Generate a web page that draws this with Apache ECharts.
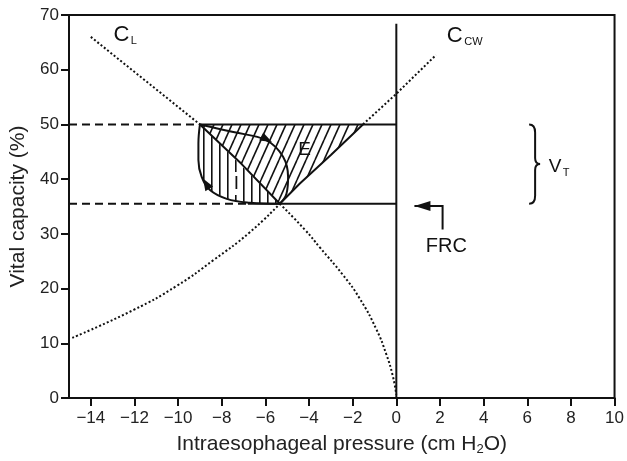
<!DOCTYPE html>
<html>
<head>
<meta charset="utf-8">
<script src="https://cdn.jsdelivr.net/npm/echarts@6/dist/echarts.min.js"></script>
<style>
  html, body { margin: 0; padding: 0; background: #fff; }
  #main { width: 627px; height: 461px; }
</style>
</head>
<body>
<div id="main"></div>
<script>
// tick labels
var xTicks = [-14, -12, -10, -8, -6, -4, -2, 0, 2, 4, 6, 8, 10];

// lung compliance curve (C_L)
var clUpper = [[-14, 66], [-11.5, 58], [-9, 50]];
var clMid = [[-9, 50], [-7.1, 42.8], [-5.34, 35.5]];
var clLower = [[-5.34, 35.5], [-4.2, 30.8], [-3.5, 27.5], [-2.45, 22.5], [-1.68, 18.2], [-0.92, 12.6], [-0.46, 8.0], [-0.16, 4.0], [0, 0.6]];

// chest wall curve (C_CW)
var ccwLower = [[-14.85, 11], [-12.04, 16.1], [-10.06, 20.5], [-8.38, 25.2], [-6.71, 30.3], [-5.34, 35.5]];
var ccwMid = [[-5.34, 35.5], [-4.42, 39.2], [-3, 44.4], [-1.53, 50]];
var ccwUpper = [[-1.53, 50], [0, 55.6], [1.82, 62.7]];

// breathing loop
var inspLoop = [[-5.34, 35.5], [-6.71, 35.7], [-7.77, 36.4], [-8.54, 38.0], [-8.92, 40.4], [-9.07, 43.5], [-9.07, 46.5], [-9, 50]];
var expLoop = [[-9, 50], [-7.47, 48.6], [-5.95, 47.1], [-5.19, 44.1], [-4.96, 40.4], [-5.03, 37.4], [-5.34, 35.5]];

// reference lines
var vtDashed = [[-15, 50], [-9, 50]];
var vtSolid = [[-9, 50], [0, 50]];
var frcDashed = [[-15, 35.5], [-6.8, 35.5]];
var frcSolid = [[-6.8, 35.5], [0, 35.5]];
var zeroLine = [[0, 0], [0, 68.4]];

// arrows [from, tip]
var arrowInsp = [[-8.54, 38.0], [-8.86, 40.1]];
var arrowExp = [[-6.7, 48.8], [-5.7, 46.8]];
var frcArrow = [[2.12, 30.8], [2.12, 35.1], [0.83, 35.1]];
var brace = [6.36, 35.5, 50];

// annotations
var labels = [
  { text: 'C', sub: 'L', at: [-12.6, 66.3] },
  { text: 'C', sub: 'CW', at: [2.68, 66.1] },
  { text: 'E', at: [-4.2, 45.4] },
  { text: 'I', at: [-7.33, 39.2] },
  { text: 'V', sub: 'T', at: [7.27, 42.3] },
  { text: 'FRC', at: [2.29, 27.7] }
];

var FONT = '"Liberation Sans", Arial, sans-serif';
var INK = '#111';
var labelSize = { C: 22, E: 19, I: 19, V: 19, FRC: 20 };

function hatch(kind) {
  var c = document.createElement('canvas');
  var ctx;
  if (kind === 'v') {
    c.width = 8; c.height = 8;
    ctx = c.getContext('2d');
    ctx.fillStyle = INK;
    ctx.fillRect(3, 0, 1.6, 8);
  } else {
    var w = 9, h = 20;
    c.width = w; c.height = h;
    ctx = c.getContext('2d');
    ctx.strokeStyle = INK;
    ctx.lineWidth = 1.6;
    for (var k = -1; k <= 1; k++) {
      ctx.beginPath();
      ctx.moveTo(k * w, h);
      ctx.lineTo(k * w + w, 0);
      ctx.stroke();
    }
  }
  return { image: c, repeat: 'repeat' };
}
var vHatch = hatch('v');
var dHatch = hatch('d');

function lineSeries(data, type, smooth) {
  return {
    type: 'line',
    data: data,
    symbol: 'none',
    smooth: smooth || false,
    silent: true,
    z: 3,
    lineStyle: { color: INK, width: 2, type: type, cap: 'butt' }
  };
}
var DOT = [2, 2.2];
var DASH = [8, 5];

function arrowHead(from, tip, len, hw) {
  var dx = tip[0] - from[0], dy = tip[1] - from[1];
  var d = Math.sqrt(dx * dx + dy * dy);
  dx /= d; dy /= d;
  var bx = tip[0] - dx * len, by = tip[1] - dy * len;
  return {
    type: 'polygon',
    shape: { points: [tip, [bx - dy * hw, by + dx * hw], [bx + dy * hw, by - dx * hw]] },
    style: { fill: INK, stroke: null }
  };
}

var measureCtx = document.createElement('canvas').getContext('2d');
function textWidth(t, size) {
  measureCtx.font = size + 'px ' + FONT;
  return measureCtx.measureText(t).width;
}

function renderHatch(params, api) {
  var insp = inspLoop.concat(clMid.slice().reverse().slice(1)).map(function (p) { return api.coord(p); });
  var tri = [[-9, 50], [-1.53, 50]].concat(ccwMid.slice().reverse().slice(1), clMid.slice().reverse().slice(1))
    .map(function (p) { return api.coord(p); });
  return {
    type: 'group',
    children: [
      { type: 'polygon', shape: { points: insp }, style: { fill: vHatch, stroke: null } },
      { type: 'polygon', shape: { points: tri }, style: { fill: dHatch, stroke: null } }
    ]
  };
}

function renderNotes(params, api) {
  var kids = [];
  kids.push(arrowHead(api.coord(arrowInsp[0]), api.coord(arrowInsp[1]), 12, 4.5));
  kids.push(arrowHead(api.coord(arrowExp[0]), api.coord(arrowExp[1]), 12, 4.5));

  var f = frcArrow.map(function (p) { return api.coord(p); });
  kids.push({ type: 'polyline', shape: { points: f }, style: { stroke: INK, lineWidth: 2, fill: null } });
  kids.push(arrowHead(f[1], f[2], 16, 5));

  var top = api.coord([brace[0], brace[2]]);
  var bot = api.coord([brace[0], brace[1]]);
  var cx = top[0], y0 = top[1], y1 = bot[1], ym = (y0 + y1) / 2;
  var p = 'M' + (cx - 6) + ' ' + y0 + ' Q' + cx + ' ' + y0 + ' ' + cx + ' ' + (y0 + 8) +
    ' L' + cx + ' ' + (ym - 6) + ' Q' + cx + ' ' + ym + ' ' + (cx + 5) + ' ' + ym +
    ' Q' + cx + ' ' + ym + ' ' + cx + ' ' + (ym + 6) +
    ' L' + cx + ' ' + (y1 - 8) + ' Q' + cx + ' ' + y1 + ' ' + (cx - 6) + ' ' + y1;
  kids.push({ type: 'path', shape: { pathData: p }, style: { stroke: INK, lineWidth: 2, fill: null } });

  labels.forEach(function (l) {
    var c = api.coord(l.at);
    var size = labelSize[l.text];
    var st = {
      text: l.text, x: c[0], y: c[1], align: 'center', verticalAlign: 'middle',
      fill: INK, font: size + 'px ' + FONT
    };
    if (l.text === 'I') { st.backgroundColor = '#fff'; st.padding = [2, 3]; }
    kids.push({ type: 'text', style: st });
    if (l.sub) {
      kids.push({
        type: 'text',
        style: {
          text: l.sub, x: c[0] + textWidth(l.text, size) / 2 + 1.5, y: c[1] + 6,
          align: 'left', verticalAlign: 'middle', fill: INK, font: '11px ' + FONT
        }
      });
    }
  });
  return { type: 'group', children: kids };
}

var chart = echarts.init(document.getElementById('main'), null, { renderer: 'canvas' });
chart.setOption({
  animation: false,
  backgroundColor: '#fff',
  grid: { left: 69, right: 11, top: 15, bottom: 63, show: true, borderColor: INK, borderWidth: 2 },
  xAxis: {
    type: 'value', min: -15, max: 10,
    name: 'Intraesophageal pressure (cm H{s|2}O)',
    nameLocation: 'middle', nameGap: 34,
    nameTextStyle: {
      fontSize: 21, color: '#222', fontFamily: FONT,
      rich: { s: { fontSize: 13, color: '#222', fontFamily: FONT, padding: [11, 0, 0, 0] } }
    },
    axisLine: { onZero: false, lineStyle: { color: INK, width: 2 } },
    axisTick: { show: true, customValues: xTicks, length: 8, lineStyle: { color: INK, width: 2 } },
    axisLabel: {
      customValues: xTicks, fontSize: 17, color: '#222', fontFamily: FONT, margin: 12,
      formatter: function (v) { return String(v).replace('-', '\u2212'); }
    },
    splitLine: { show: false }
  },
  yAxis: {
    type: 'value', min: 0, max: 70, interval: 10,
    name: 'Vital capacity (%)',
    nameLocation: 'middle', nameGap: 38,
    nameTextStyle: { fontSize: 21, color: '#222', fontFamily: FONT },
    axisLine: { show: true, onZero: false, lineStyle: { color: INK, width: 2 } },
    axisTick: { show: true, length: 8, lineStyle: { color: INK, width: 2 } },
    axisLabel: { fontSize: 17, color: '#222', fontFamily: FONT, margin: 10 },
    splitLine: { show: false }
  },
  series: [
    { type: 'custom', renderItem: renderHatch, data: [[0, 0]], silent: true, z: 1 },
    lineSeries(clUpper, DOT),
    lineSeries(clMid, 'solid'),
    lineSeries(clLower, DOT, 0.5),
    lineSeries(ccwLower, DOT, 0.5),
    lineSeries(ccwMid, 'solid'),
    lineSeries(ccwUpper, DOT),
    lineSeries(inspLoop, 'solid', 0.4),
    lineSeries(expLoop, 'solid', 0.4),
    lineSeries(vtDashed, DASH),
    lineSeries(vtSolid, 'solid'),
    lineSeries(frcDashed, DASH),
    lineSeries(frcSolid, 'solid'),
    lineSeries(zeroLine, 'solid'),
    { type: 'custom', renderItem: renderNotes, data: [[0, 0]], silent: true, z: 5 }
  ]
});
</script>
</body>
</html>
